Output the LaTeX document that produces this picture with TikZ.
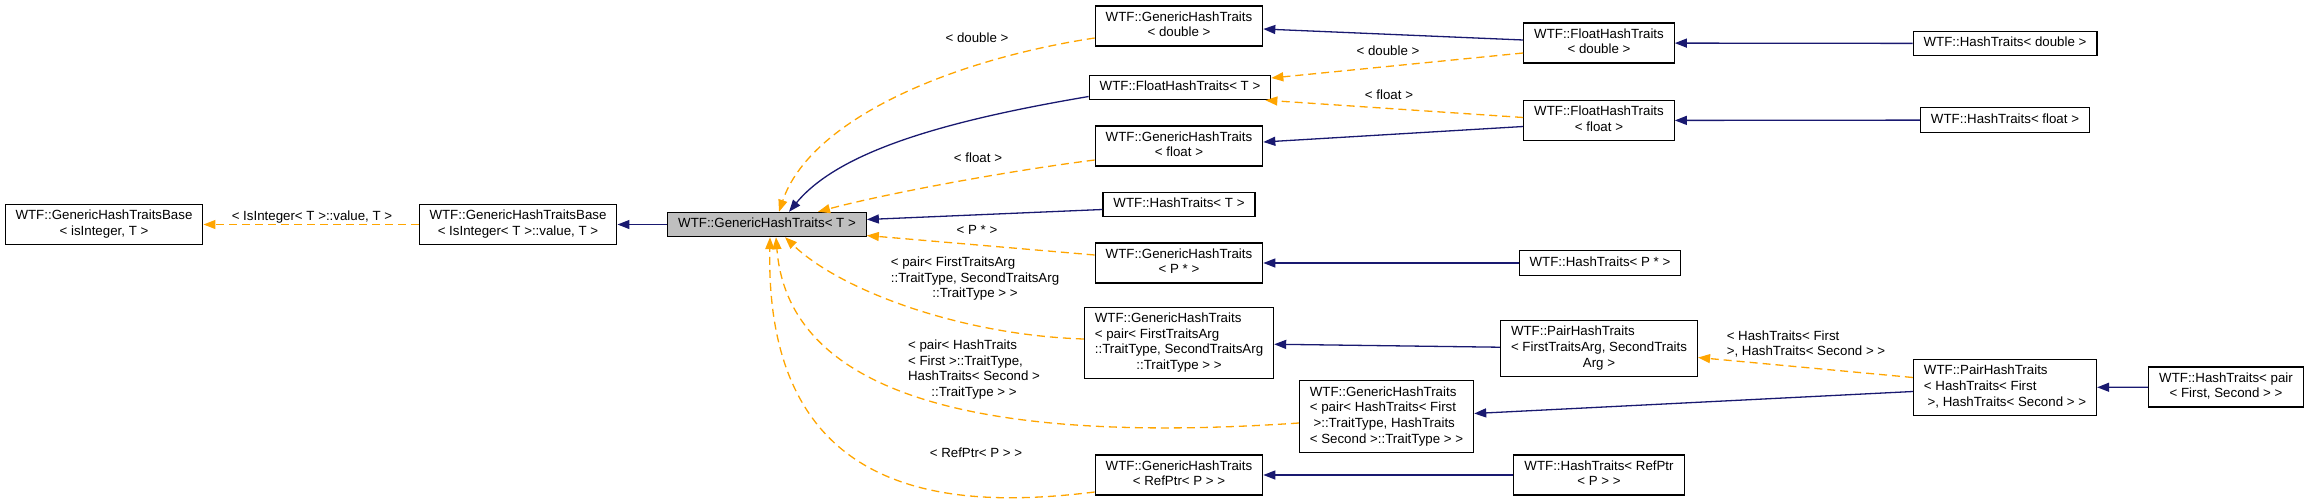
\documentclass[tikz,border=0pt]{standalone}
\usepackage{fontspec}
\setmainfont{Liberation Sans}
\usepackage{tikz}
\usetikzlibrary{arrows.meta}
\definecolor{xnavy}{RGB}{25,25,112}
\definecolor{xorange}{RGB}{255,165,0}
\definecolor{xgrey}{RGB}{191,191,191}
\newcommand{\midtxt}[1]{\begin{tabular}{@{}c@{}}#1\end{tabular}}
\newcommand{\lefttxt}[1]{\begin{tabular}{@{}l@{}}#1\end{tabular}}
\newcommand{\midrow}[1]{\multicolumn{1}{@{}c@{}}{#1}}

\begin{document}
\begin{tikzpicture}[x=1pt,y=-1pt,>={Triangle[length=12pt,width=9pt]}, every node/.style={font=\fontsize{13.3}{15.7}\selectfont}]
\tikzset{cls/.style={draw=black,line width=1.1pt,fill=white,inner xsep=10.5pt,inner ysep=4.3pt}}
\tikzset{inh/.style={->,draw=xnavy,line width=1.3pt}}
\tikzset{tmpl/.style={->,draw=xorange,line width=1.3pt,dash pattern=on 8pt off 5pt}}
\tikzset{lbl/.style={inner sep=0pt}}
\useasboundingbox (0,0) rectangle (2309,501);
\node[cls] at (104,224.5) (base) {\midtxt{WTF::GenericHashTraitsBase\\< isInteger, T >}};
\node[cls] at (518,224.5) (baseint) {\midtxt{WTF::GenericHashTraitsBase\\< IsInteger< T >::value, T >}};
\node[cls,fill=xgrey] at (767,224.5) (ght) {\midtxt{WTF::GenericHashTraits< T >}};
\draw[tmpl] (baseint) -- (base);
\node[lbl] at (312,217) (lbase) {< IsInteger< T >::value, T >};
\draw[inh] (ght) -- (baseint);
% middle column
\node[cls] at (1179,26) (gdbl) {\midtxt{WTF::GenericHashTraits\\< double >}};
\node[cls] at (1180,87.5) (fht) {\midtxt{WTF::FloatHashTraits< T >}};
\node[cls] at (1179,146) (gflt) {\midtxt{WTF::GenericHashTraits\\< float >}};
\node[cls] at (1179,204.5) (htT) {\midtxt{WTF::HashTraits< T >}};
\node[cls] at (1179,263) (gptr) {\midtxt{WTF::GenericHashTraits\\< P * >}};
\node[cls] at (1179,343) (gpair) {\lefttxt{WTF::GenericHashTraits\\< pair< FirstTraitsArg\\::TraitType, SecondTraitsArg\\\midrow{::TraitType > >}}};
\node[cls] at (1386.5,416.5) (gpairht) {\lefttxt{WTF::GenericHashTraits\\< pair< HashTraits< First\\\ >::TraitType, HashTraits\\\midrow{< Second >::TraitType > >}}};
\node[cls] at (1179,475) (gref) {\midtxt{WTF::GenericHashTraits\\< RefPtr< P > >}};
\draw[tmpl] ([yshift=-12pt]gdbl.west) .. controls (950,60) and (810,120) .. ([xshift=12pt]ght.north);
\node[lbl] at (977,38) (ldbl) {< double >};
\draw[inh] ([yshift=-9pt]fht.west) .. controls (950,120) and (840,150) .. ([xshift=22pt]ght.north);
\draw[tmpl] ([yshift=-14pt]gflt.west) .. controls (1000,172) and (880,195) .. ([xshift=51pt]ght.north);
\node[lbl] at (978,158) (lflt) {< float >};
\draw[inh] ([yshift=-5pt]htT.west) -- ([yshift=5pt]ght.east);
\draw[tmpl] ([yshift=8pt]gptr.west) -- ([yshift=-11pt]ght.east);
\node[lbl] at (977,230) (lptr) {< P * >};
\draw[tmpl] ([yshift=4pt]gpair.west) .. controls (960,335) and (840,290) .. ([xshift=18pt]ght.south);
\node[lbl] at (975,279) (lpair) {\lefttxt{< pair< FirstTraitsArg\\::TraitType, SecondTraitsArg\\\midrow{::TraitType > >}}};
\draw[tmpl] ([yshift=-6.5pt]gpairht.west) .. controls (1050,440) and (790,420) .. ([xshift=9pt]ght.south);
\node[lbl] at (974,370) (lpairht) {\lefttxt{< pair< HashTraits\\< First >::TraitType,\\HashTraits< Second >\\\midrow{::TraitType > >}}};
\draw[tmpl] ([yshift=-17pt]gref.west) .. controls (950,510) and (765,500) .. ([xshift=3pt]ght.south);
\node[lbl] at (976,453) (lref) {< RefPtr< P > >};
% right columns
\node[cls] at (1599,43) (fdbl) {\midtxt{WTF::FloatHashTraits\\< double >}};
\node[cls] at (1599,120.5) (fflt) {\midtxt{WTF::FloatHashTraits\\< float >}};
\node[cls] at (1600,263) (htptr) {\midtxt{WTF::HashTraits< P * >}};
\node[cls] at (1599,348.5) (ppair) {\lefttxt{WTF::PairHashTraits\\< FirstTraitsArg, SecondTraits\\\midrow{Arg >}}};
\node[cls] at (1599,475) (htref) {\midtxt{WTF::HashTraits< RefPtr\\< P > >}};
\draw[inh] ([yshift=3pt]fdbl.west) -- ([yshift=-3pt]gdbl.east);
\draw[tmpl] ([yshift=-10pt]fdbl.west) -- ([yshift=9.5pt]fht.east);
\node[lbl] at (1388,51) (lfdbl) {< double >};
\draw[tmpl] ([yshift=3pt]fflt.west) -- ([xshift=-6pt]fht.south east);
\node[lbl] at (1389,95) (lfflt) {< float >};
\draw[inh] ([yshift=-6pt]fflt.west) -- ([yshift=4pt]gflt.east);
\draw[inh] (htptr) -- (gptr);
\draw[inh] (ppair) -- (gpair);
\draw[inh] (htref) -- (gref);
\node[cls] at (2005,43.5) (htdbl) {\midtxt{WTF::HashTraits< double >}};
\node[cls] at (2005,120) (htflt) {\midtxt{WTF::HashTraits< float >}};
\node[cls] at (2005,387.5) (ppairht) {\lefttxt{WTF::PairHashTraits\\< HashTraits< First\\\midrow{\ >, HashTraits< Second > >}}};
\node[cls] at (2226,387) (htpair) {\midtxt{WTF::HashTraits< pair\\< First, Second > >}};
\draw[inh] (htdbl) -- (fdbl);
\draw[inh] (htflt) -- (fflt);
\draw[tmpl] ([yshift=10pt]ppairht.west) -- ([yshift=-9pt]ppair.east);
\node[lbl] at (1806,345) (lpht) {\lefttxt{< HashTraits< First\\>, HashTraits< Second > >}};
\draw[inh] ([yshift=-4pt]ppairht.west) -- ([yshift=3pt]gpairht.east);
\draw[inh] (htpair) -- (ppairht);
\end{tikzpicture}
\end{document}
